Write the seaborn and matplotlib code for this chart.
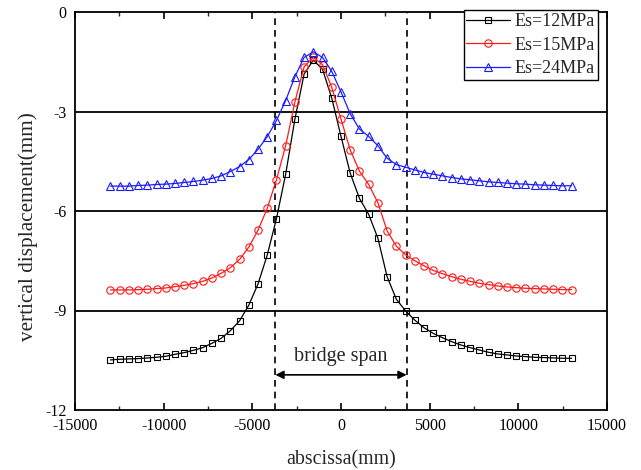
import numpy as np
import pandas as pd
import matplotlib
matplotlib.use("Agg")
import matplotlib.pyplot as plt
import seaborn as sns
from matplotlib.ticker import MultipleLocator

# ---------------- data ----------------
x_mm = [-13000 + 520 * i for i in range(51)]

es12 = [-10.49, -10.47, -10.46, -10.45, -10.43, -10.41, -10.38, -10.32, -10.27, -10.20,
        -10.12, -9.99, -9.84, -9.61, -9.31, -8.84, -8.20, -7.33, -6.23, -4.89,
        -3.23, -1.87, -1.45, -1.73, -2.60, -3.75, -4.86, -5.62, -6.10, -6.82,
        -7.98, -8.66, -9.01, -9.29, -9.52, -9.69, -9.82, -9.94, -10.04, -10.12,
        -10.19, -10.26, -10.31, -10.34, -10.37, -10.39, -10.41, -10.42, -10.43, -10.44,
        -10.44]

es15 = [-8.38, -8.38, -8.38, -8.37, -8.36, -8.34, -8.32, -8.28, -8.24, -8.19,
        -8.12, -8.02, -7.88, -7.71, -7.46, -7.09, -6.58, -5.92, -5.06, -4.03,
        -2.71, -1.65, -1.37, -1.59, -2.27, -3.23, -4.16, -4.80, -5.20, -5.75,
        -6.60, -7.06, -7.32, -7.50, -7.65, -7.79, -7.89, -7.98, -8.06, -8.12,
        -8.18, -8.22, -8.26, -8.29, -8.31, -8.33, -8.34, -8.35, -8.36, -8.37,
        -8.37]

es24 = [-5.25, -5.25, -5.25, -5.23, -5.22, -5.20, -5.19, -5.17, -5.14, -5.11,
        -5.07, -5.02, -4.94, -4.81, -4.66, -4.45, -4.14, -3.76, -3.27, -2.67,
        -1.95, -1.37, -1.20, -1.37, -1.79, -2.41, -3.07, -3.53, -3.75, -4.03,
        -4.41, -4.60, -4.68, -4.76, -4.84, -4.89, -4.94, -4.99, -5.03, -5.06,
        -5.09, -5.12, -5.14, -5.16, -5.18, -5.19, -5.21, -5.22, -5.23, -5.24,
        -5.24]

series_labels = ["Es=12MPa", "Es=15MPa", "Es=24MPa"]
hlines_y = [-3, -6, -9]
span_x = [-3700, 3700]
span_text = "bridge span"

# ---------------- style ----------------
sns.set_theme(style="ticks")
plt.rcParams["font.family"] = ["Liberation Serif", "DejaVu Serif"]
plt.rcParams["axes.unicode_minus"] = False

fig = plt.figure(figsize=(6.41, 4.70), dpi=100)
ax = fig.add_axes([75 / 641, 1 - 410 / 470, 532 / 641, 398 / 470])

styles = [
    dict(color="black", marker="s", markersize=4.3),
    dict(color="#ff1a1a", marker="o", markersize=5.3),
    dict(color="#1a1aff", marker="^", markersize=6.0),
]
for ys, lab, st in zip([es12, es15, es24], series_labels, styles):
    df = pd.DataFrame({"x": x_mm, "y": ys})
    sns.lineplot(data=df, x="x", y="y", ax=ax, color=st["color"], marker=st["marker"],
                 markersize=st["markersize"], markerfacecolor="none",
                 markeredgecolor=st["color"], markeredgewidth=0.8, linewidth=0.9,
                 label=lab, zorder=3)

for hy in hlines_y:
    ax.axhline(hy, color="black", linewidth=1.3, zorder=2)
for sx in span_x:
    ax.axvline(sx, color="black", linewidth=1.2, linestyle=(0, (4, 3)), zorder=2)

ax.annotate("", xy=(span_x[0], -10.94), xytext=(span_x[1], -10.94),
            arrowprops=dict(arrowstyle="<|-|>", color="black", lw=1.2,
                            mutation_scale=12, shrinkA=0, shrinkB=0))
ax.text(0, -10.4, span_text, ha="center", va="center", fontsize=14.5)

ax.set_xlim(-15000, 15000)
ax.set_ylim(-12, 0)
ax.xaxis.set_major_locator(MultipleLocator(5000))
ax.xaxis.set_minor_locator(MultipleLocator(2500))
ax.yaxis.set_major_locator(MultipleLocator(3))
ax.tick_params(axis="x", which="major", direction="in", length=5, width=1.2,
               top=True, bottom=True, labelsize=11.5, pad=6, colors="black")
ax.tick_params(axis="x", which="minor", direction="in", length=3, width=1.0,
               top=True, bottom=True)
ax.tick_params(axis="y", which="major", direction="in", length=0, labelsize=11.5,
               pad=6, colors="black")

ax.set_xlabel("abscissa(mm)", fontsize=14.3, labelpad=11.5)
ax.set_ylabel("vertical displacement(mm)", fontsize=15.3)
ax.yaxis.set_label_coords(-0.07, 0.46)

for sp in ax.spines.values():
    sp.set_linewidth(1.3)
    sp.set_color("black")
    sp.set_visible(True)

leg = ax.legend(loc="upper right", bbox_to_anchor=(0.983, 1.004), fontsize=13,
                frameon=True, fancybox=False, edgecolor="black", framealpha=1,
                handlelength=2.4, borderpad=0.15, labelspacing=0.37,
                handletextpad=0.3, borderaxespad=0)
leg.get_frame().set_linewidth(1.0)

fig.savefig("out.png", dpi=100)
